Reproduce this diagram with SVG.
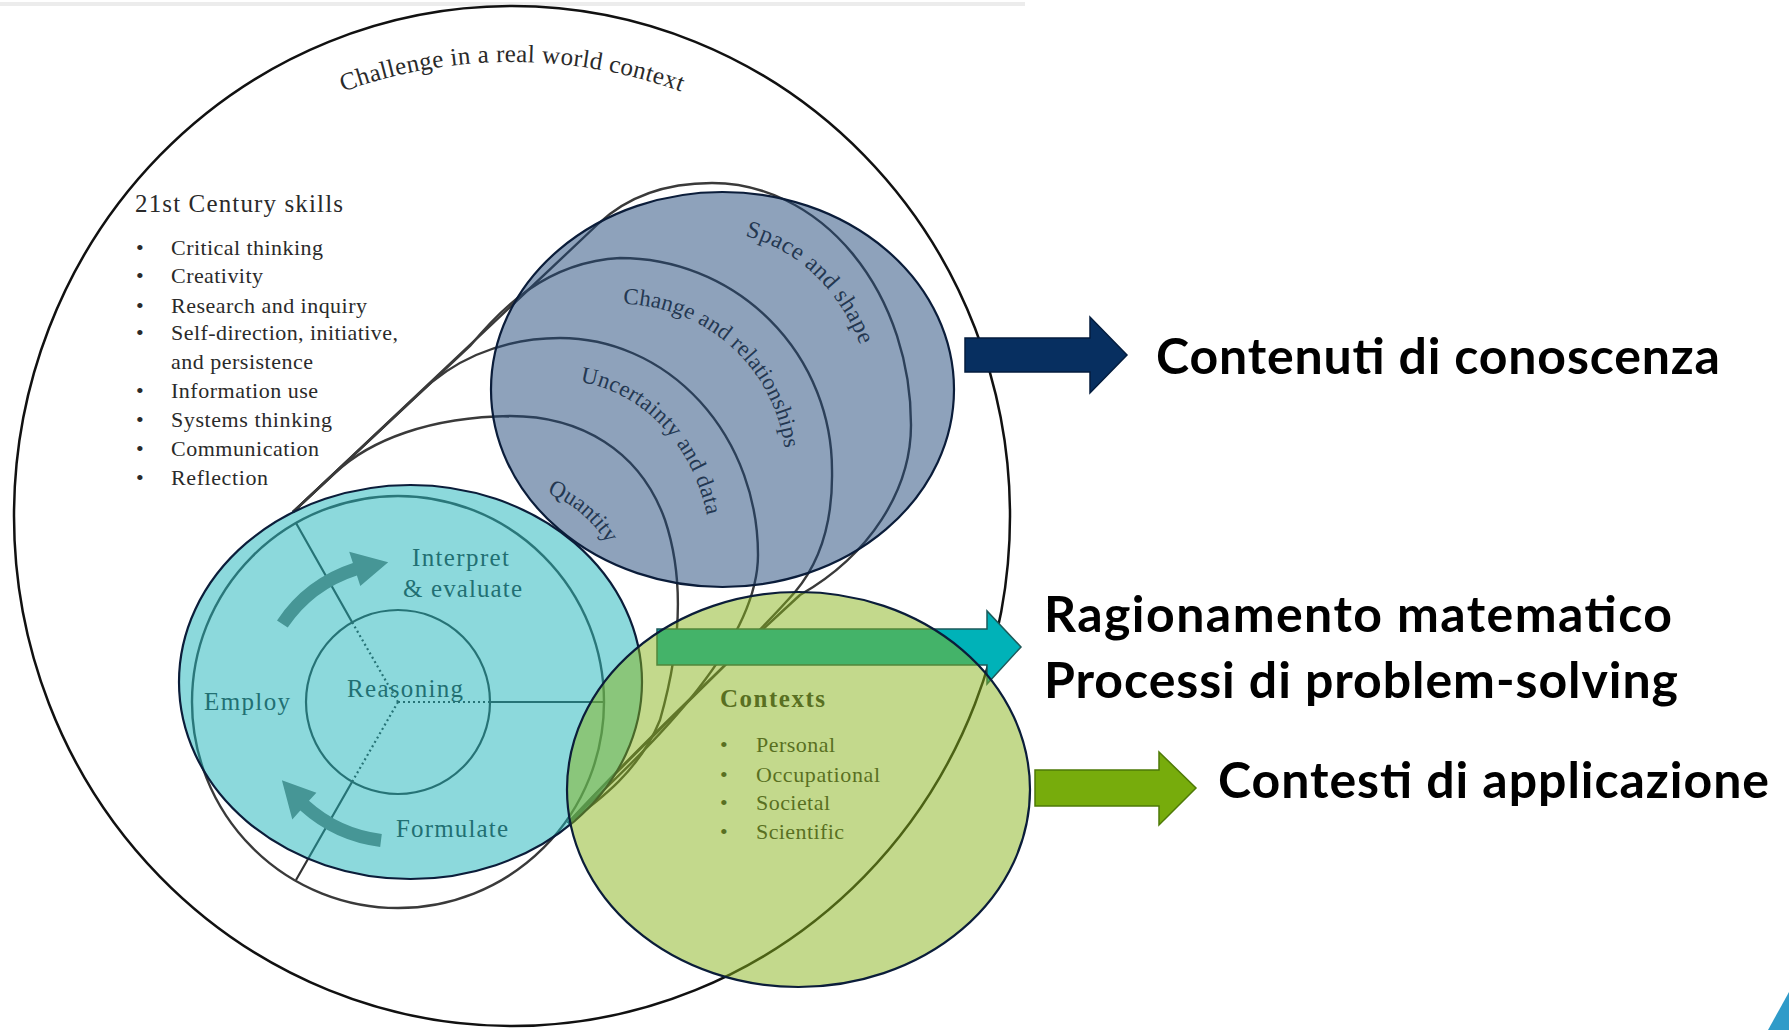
<svg xmlns="http://www.w3.org/2000/svg" width="1789" height="1030" viewBox="0 0 1789 1030">
<defs>
<style>
.serif{font-family:"Liberation Serif","DejaVu Serif",serif;fill:#2a2a2a}
.line{fill:none;stroke:#3a3a3a;stroke-width:2.4}
.thin{fill:none;stroke:#333;stroke-width:2.2}
.dot{fill:none;stroke:#333;stroke-width:2.2;stroke-dasharray:2 3}
.ov{stroke:#0b1d3a;stroke-width:2.2}
.lbl{font-family:Lato,"Open Sans","Liberation Sans",sans-serif;font-weight:700;font-size:50px;fill:#000}
</style>
<path id="pChallenge" d="M 37 516 A 475 454 0 0 1 987 516"/>
<path id="pSpace" d="M 745 236 A 163 193 0 0 1 875 425"/>
<path id="pChange" d="M 623 304 A 166 166 0 0 1 786 470"/>
<path id="pUnc" d="M 580 382 A 151 175 0 0 1 711 555"/>
<path id="pQuan" d="M 547 493 A 126 126 0 0 1 626 610"/>
</defs>
<rect width="1789" height="1030" fill="#fff"/>
<line x1="0" y1="4" x2="1025" y2="4" stroke="#ececec" stroke-width="4"/>

<g id="context-challenge">
<ellipse cx="512" cy="516" rx="498" ry="510" fill="none" stroke="#111" stroke-width="2.5"/>
<text class="serif" font-size="25"><textPath href="#pChallenge" startOffset="50%" text-anchor="middle" textLength="345">Challenge in a real world context</textPath></text>
</g>

<g id="skills">
<text class="serif" x="135" y="212" font-size="25" textLength="208">21st Century skills</text>
<g font-size="22">
<text class="serif" x="136" y="255">•</text><text class="serif" x="171" y="255" textLength="152">Critical thinking</text>
<text class="serif" x="136" y="283">•</text><text class="serif" x="171" y="283" textLength="92">Creativity</text>
<text class="serif" x="136" y="313">•</text><text class="serif" x="171" y="313" textLength="196">Research and inquiry</text>
<text class="serif" x="136" y="340">•</text><text class="serif" x="171" y="340" textLength="227">Self-direction, initiative,</text>
<text class="serif" x="171" y="369" textLength="142">and persistence</text>
<text class="serif" x="136" y="398">•</text><text class="serif" x="171" y="398" textLength="147">Information use</text>
<text class="serif" x="136" y="427">•</text><text class="serif" x="171" y="427" textLength="161">Systems thinking</text>
<text class="serif" x="136" y="456">•</text><text class="serif" x="171" y="456" textLength="148">Communication</text>
<text class="serif" x="136" y="485">•</text><text class="serif" x="171" y="485" textLength="97">Reflection</text>
</g>
</g>

<g id="content-arcs">
<path class="line" d="M 293 512 L 598 224 C 630 194, 670 183, 712 183 A 199 242 0 0 1 911 425 C 911 490, 870 555, 800 595 C 740 650, 640 745, 568 823"/>
<path class="line" d="M 293 512 L 470 346 C 500 310, 545 262, 620 258 A 212 212 0 0 1 832 470 C 833 520, 822 560, 795 592 C 740 655, 640 745, 568 823"/>
<path class="line" d="M 293 512 L 420 393 C 448 365, 495 338, 560 338 A 198 217 0 0 1 758 555 C 758 640, 660 740, 568 823"/>
<path class="line" d="M 293 512 L 335 473 C 370 440, 430 417, 510 416 C 580 416, 640 450, 665 520 C 685 580, 680 650, 660 720 C 640 770, 600 800, 568 823"/>
<g class="serif" font-size="23">
<text font-size="24"><textPath href="#pSpace" textLength="165">Space and shape</textPath></text>
<text><textPath href="#pChange" textLength="236">Change and relationships</textPath></text>
<text><textPath href="#pUnc" textLength="196">Uncertainty and data</textPath></text>
<text><textPath href="#pQuan" textLength="80">Quantity</textPath></text>
</g>
</g>

<g id="process">
<circle cx="398" cy="702" r="206" class="line"/>
<circle cx="398" cy="702" r="92" class="thin"/>
<path class="dot" d="M398 702 L490 702 M398 702 L352 622 M398 702 L352 782"/>
<path class="thin" d="M490 702 L603 702 M352 622 L296 523 M352 782 L296 880"/>
<path fill="#737873" d="M 277.0 620.4 A 146 146 0 0 1 352.9 563.1 L 349.2 551.7 L 388.2 562.3 L 360.3 586.0 L 356.9 575.5 A 133 133 0 0 0 287.7 627.6 Z"/>
<path fill="#737873" d="M 381.8 834.0 A 133 133 0 0 1 309.0 800.8 L 316.4 792.7 L 281.9 780.3 L 292.3 819.4 L 300.3 810.5 A 146 146 0 0 0 380.2 846.9 Z"/>
<g font-size="25">
<text class="serif" x="412" y="566" textLength="97">Interpret</text>
<text class="serif" x="403" y="597" textLength="119">&amp; evaluate</text>
<text class="serif" x="204" y="710" textLength="86">Employ</text>
<text class="serif" x="347" y="697" textLength="116">Reasoning</text>
<text class="serif" x="396" y="837" textLength="112">Formulate</text>
</g>
</g>

<g id="contexts-text">
<text class="serif" x="720" y="707" font-size="25" font-weight="700" textLength="105">Contexts</text>
<g font-size="22">
<text class="serif" x="720" y="752">•</text><text class="serif" x="756" y="752" textLength="79">Personal</text>
<text class="serif" x="720" y="782">•</text><text class="serif" x="756" y="782" textLength="124">Occupational</text>
<text class="serif" x="720" y="810">•</text><text class="serif" x="756" y="810" textLength="74">Societal</text>
<text class="serif" x="720" y="839">•</text><text class="serif" x="756" y="839" textLength="88">Scientific</text>
</g>
</g>

<g id="process-overlay">
<ellipse class="ov" cx="410.5" cy="682" rx="231.5" ry="197" fill="#19B4B9" fill-opacity="0.5"/>
</g>
<g id="content-overlay">
<ellipse class="ov" cx="722.5" cy="389.5" rx="231.5" ry="197.5" fill="#1E4678" fill-opacity="0.5"/>
</g>

<g id="connectors">
<path d="M 965 338 L 1090 338 L 1090 317 L 1127 355 L 1090 393 L 1090 372 L 965 372 Z" fill="#072F60" stroke="#041d3e" stroke-width="1.5"/>
<path d="M 657 629 L 987 629 L 987 611 L 1021 647 L 987 684 L 987 665 L 657 665 Z" fill="#00B2B8" stroke="#1d5a5a" stroke-width="1.5"/>
</g>

<g id="contexts-overlay">
<ellipse class="ov" cx="798.5" cy="789.5" rx="231.5" ry="197.5" fill="#87B419" fill-opacity="0.5"/>
</g>

<g id="connectors-2">
<path d="M 1035 770 L 1159 770 L 1159 752 L 1196 788 L 1159 825 L 1159 806 L 1035 806 Z" fill="#77AC0C" stroke="#4e7a07" stroke-width="1.5"/>
</g>

<g id="labels">
<text class="lbl" x="1156" y="374" textLength="564">Contenuti di conoscenza</text>
<text class="lbl" x="1044" y="632" textLength="628">Ragionamento matematico</text>
<text class="lbl" x="1044" y="698" textLength="634">Processi di problem-solving</text>
<text class="lbl" x="1218" y="798" textLength="551">Contesti di applicazione</text>
</g>

<polygon points="1768,1030 1789,992 1789,1030" fill="#2F9BC9"/>
</svg>
